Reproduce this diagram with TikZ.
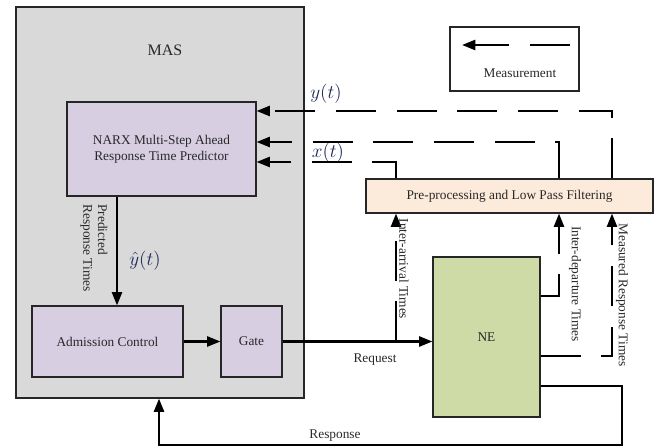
\documentclass[tikz,border=0pt]{standalone}
\usepackage{fontspec}
\setmainfont{Liberation Serif}
\usetikzlibrary{positioning, arrows.meta, calc}
\definecolor{masgray}{RGB}{217,217,217}
\definecolor{narxlilac}{RGB}{216,206,226}
\definecolor{filterpeach}{RGB}{252,234,218}
\definecolor{negreen}{RGB}{206,219,166}
\definecolor{txtgray}{RGB}{40,40,40}
\definecolor{sigblue}{RGB}{30,40,90}

\begin{document}
\begin{tikzpicture}[
x=0.75pt, y=-0.75pt,
    block/.style={rectangle, draw=black!85, line width=0.8pt, align=center, font=\fontsize{10}{12}\selectfont, text=txtgray, inner sep=2pt},
    flow/.style={draw, line width=1.8pt, -{Triangle[length=10pt,width=7.5pt]}},
    meas/.style={flow, dash pattern=on 30pt off 15.5pt},
    lbl/.style={font=\fontsize{10}{11}\selectfont, text=txtgray, align=left},
    sig/.style={font=\fontsize{15}{16}\selectfont, text=sigblue}
]
    \useasboundingbox (0,0) rectangle (658,448);

    % --- MAS block ---
    \node[block, fill=masgray, minimum width=216pt, minimum height=293.25pt] (mas) at (160,202.5) {};
    \node[lbl, font=\fontsize{12}{14}\selectfont] (mastitle) at (165,50) {MAS};

    \node[block, fill=narxlilac, minimum width=141.75pt, minimum height=70.5pt] (narx) at (161.5,149) {NARX Multi-Step Ahead\\Response Time Predictor};
    \node[block, fill=narxlilac, minimum width=113.25pt, minimum height=53.25pt] (adm) at (107.5,341.5) {Admission Control};
    \node[block, fill=narxlilac, minimum width=45.75pt, minimum height=53.25pt] (gate) at (251.5,341.5) {Gate};

    % --- Filter, NE and legend ---
    \node[block, fill=filterpeach, minimum width=215.25pt, minimum height=25.5pt] (filter) at (509.5,196) {Pre-processing and Low Pass Filtering};
    \node[block, fill=negreen, minimum width=80.25pt, minimum height=120pt] (ne) at (486.5,337) {NE};

    \node[block, minimum width=96.75pt, minimum height=48pt] (legend) at (514.5,59) {};
    \node[lbl] (legtext) at (520,73) {Measurement};
    \coordinate (legA) at (570,45);
    \coordinate (legB) at (462,45);
    \draw[meas] (legA) -- (legB);

    % --- Measurements into the predictor ---
    \coordinate (yturn) at (612,111);
    \coordinate (dturn) at (559,142);
    \coordinate (xturn) at (396,162);
    \draw[meas] (filter.north -| yturn) -- (yturn) -- (narx.east |- yturn);
    \draw[meas] (filter.north -| dturn) -- (dturn) -- (narx.east |- dturn);
    \draw[meas] (filter.north -| xturn) -- (xturn) -- (narx.east |- xturn);

    \node[sig] (ylbl) at (326,94) {$y(t)$};
    \node[sig] (xlbl) at (328,153) {$x(t)$};

    % --- Control path ---
    \coordinate (predx) at (117,250);
    \draw[flow] (narx.south -| predx) -- (adm.north -| predx);
    \node[lbl, rotate=-90] (predlbl) at (94,248) {Predicted\\Response Times};
    \node[sig] (yhat) at (145,261) {$\hat{y}(t)$};

    \draw[flow] (adm) -- (gate);
    \draw[flow] (gate) -- (gate -| ne.west);
    \node[lbl] (reqlbl) at (375,360) {Request};

    % --- Measurements into the filter ---
    \coordinate (iat) at (396,341.5);
    \coordinate (idep) at (559,296);
    \coordinate (mrt) at (612,356);
    \draw[meas] (iat) -- (filter.south -| iat);
    \draw[meas] (ne.east |- idep) -- (idep) -- (filter.south -| idep);
    \draw[meas] (ne.east |- mrt) -- (mrt) -- (filter.south -| mrt);

    \node[lbl, rotate=-90] (iatlbl) at (404,269) {Inter-arrival Times};
    \node[lbl, rotate=-90] (ideplbl) at (575,284) {Inter-departure Times};
    \node[lbl, rotate=-90] (mrtlbl) at (622,295) {Measured Response Times};

    % --- Response back to MAS ---
    \coordinate (respR) at (622,386);
    \coordinate (respB) at (159,445);
    \draw[flow] (ne.east |- respR) -- (respR) |- (respB) -- (mas.south -| respB);
    \node[lbl] (resplbl) at (335,436) {Response};

\end{tikzpicture}
\end{document}
